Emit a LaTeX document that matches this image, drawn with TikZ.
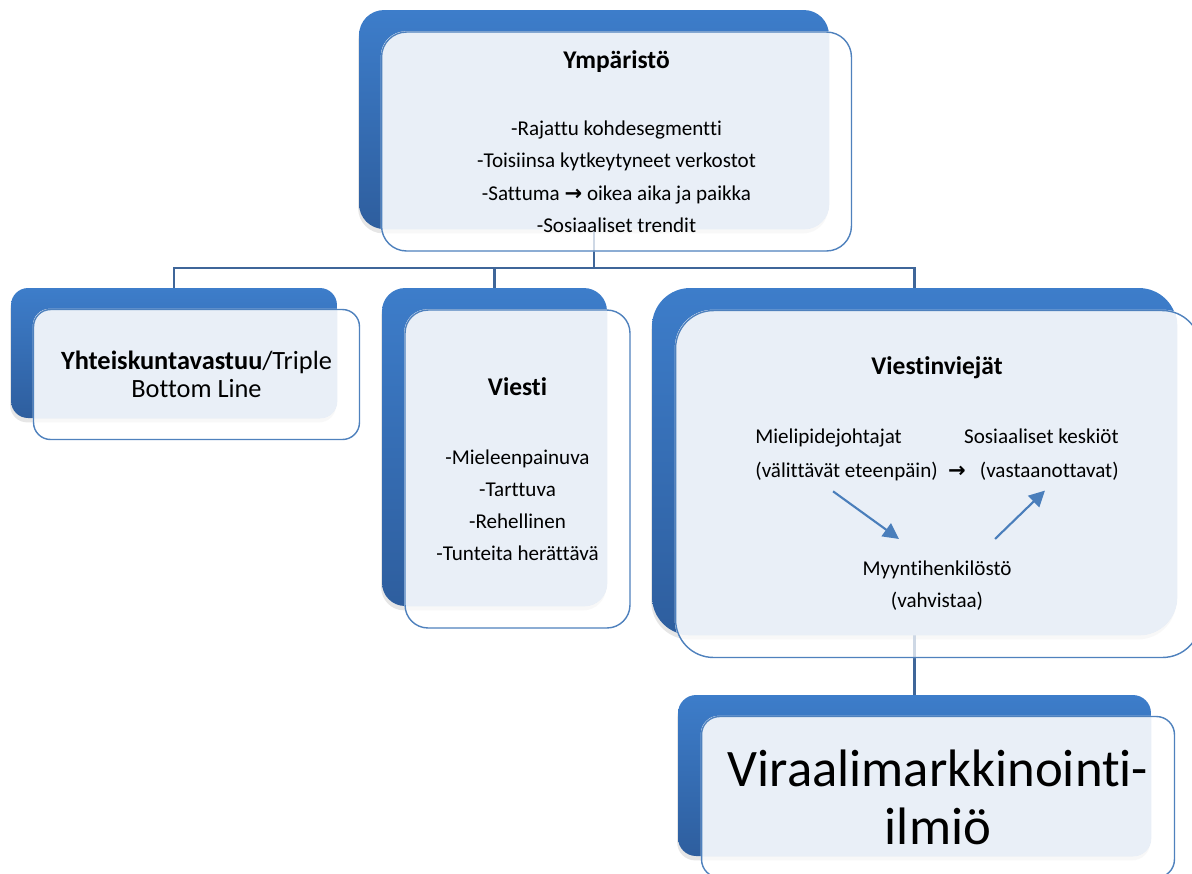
\documentclass[tikz,border=0pt]{standalone}
\usepackage{fontspec}
\setmainfont{Carlito}[Ligatures=CommonOff]
\newfontfamily\nuolifont{DejaVu Sans}
\usetikzlibrary{arrows.meta,shadows,backgrounds}

\definecolor{ylasini}{HTML}{3D7DCA}
\definecolor{alasini}{HTML}{2E5E9E}
\definecolor{reuna}{HTML}{4F81BD}
\definecolor{pohja}{HTML}{E9EFF7}
\definecolor{haaraviiva}{HTML}{3F6699}
\definecolor{nuolisini}{HTML}{4A7EBB}

\newcommand{\oikealle}{{\nuolifont\bfseries →}}

\tikzset{
  takana/.style={rectangle, top color=ylasini, bottom color=alasini, draw=none,
    drop shadow={shadow xshift=-.5pt, shadow yshift=-2.5pt, opacity=.2}},
  edessa/.style={rectangle, draw=reuna, line width=.8pt, align=center,
    font=\fontsize{12}{18.3}\selectfont},
  otsikko/.style={font=\fontsize{14.5}{18.3}\selectfont\bfseries},
  teksti/.style={inner sep=0pt, font=\fontsize{12}{19.3}\selectfont},
  haara/.style={draw=haaraviiva, line width=1.2pt},
  sininuoli/.style={draw=nuolisini, line width=1.2pt, -{Triangle[length=9pt,width=9pt]}}
}

\begin{document}
\begin{tikzpicture}[x=0.02cm, y=-0.02cm]
\useasboundingbox (0,0) rectangle (1192,873);

% taustalaatikot ja haarat
\begin{scope}[on background layer]
\node[takana, rounded corners=.5cm, minimum width=9.4cm, minimum height=4.38cm] (taka-ymp) at (594,119.5) {};
\node[takana, rounded corners=.34cm, minimum width=6.52cm, minimum height=2.6cm] (taka-vast) at (174,353) {};
\node[takana, rounded corners=.46cm, minimum width=4.5cm, minimum height=6.36cm] (taka-viesti) at (494.5,447) {};
\node[takana, rounded corners=.76cm, minimum width=10.5cm, minimum height=6.94cm] (taka-viejat) at (914.5,461.5) {};
\node[takana, rounded corners=.36cm, minimum width=9.46cm, minimum height=3.22cm] (taka-ilmio) at (914.5,775.5) {};

\draw[haara] (taka-ymp.south) -- ++(0,39) -| (taka-vast.north);
\draw[haara] (taka-ymp.south) -- ++(0,39) -| (taka-viesti.north);
\draw[haara] (taka-ymp.south) -- ++(0,39) -| (taka-viejat.north);
\draw[haara] (taka-viejat.south) -- (taka-ilmio.north);
\end{scope}

% etulaatikot
\node[edessa, rounded corners=.5cm, minimum width=9.4cm, minimum height=4.38cm] (ymp)
  at ([shift={(22.5,22)}]taka-ymp.center)
  {{\fontsize{14.5}{18.3}\selectfont\bfseries Ympäristö}\\[20pt]
   -Rajattu kohdesegmentti\\
   -Toisiinsa kytkeytyneet verkostot\\
   -Sattuma \oikealle{} oikea aika ja paikka\\
   -Sosiaaliset trendit};
\node[edessa, rounded corners=.34cm, minimum width=6.52cm, minimum height=2.6cm,
  font=\fontsize{15}{15.9}\selectfont] (vast)
  at ([shift={(22.5,21.5)}]taka-vast.center)
  {\textbf{Yhteiskuntavastuu}/Triple\\Bottom Line};
\node[edessa, rounded corners=.46cm, minimum width=4.5cm, minimum height=6.36cm] (viesti)
  at ([shift={(23,22)}]taka-viesti.center)
  {{\fontsize{14.5}{18.3}\selectfont\bfseries Viesti}\\[21pt]
   -Mieleenpainuva\\
   -Tarttuva\\
   -Rehellinen\\
   -Tunteita herättävä};
\node[edessa, rounded corners=.76cm, minimum width=10.5cm, minimum height=6.94cm] (viejat)
  at ([shift={(23.5,22.5)}]taka-viejat.center) {};
\node[edessa, rounded corners=.36cm, minimum width=9.46cm, minimum height=3.22cm,
  font=\fontsize{30}{32.9}\selectfont] (ilmio)
  at ([shift={(23.5,21.5)}]taka-ilmio.center)
  {Viraalimarkkinointi-\\ilmiö};

% vaalea pohja etulaatikon ja taustan paallekkaiselle osalle
\begin{scope}[on background layer]
\foreach \nimi/\sade in {ymp/.5cm, vast/.34cm, viesti/.46cm, viejat/.76cm, ilmio/.36cm} {
  \fill[white, opacity=.75, rounded corners=\sade] (\nimi.north west) rectangle (\nimi.south east);
  \begin{scope}
    \clip[rounded corners=\sade] (taka-\nimi.north west) rectangle (taka-\nimi.south east);
    \fill[pohja, rounded corners=\sade] (\nimi.north west) rectangle (\nimi.south east);
  \end{scope}
}
\end{scope}

% viestinviejat
\node[otsikko] (viejatots) at (937,368) {Viestinviejät};
\node[teksti, anchor=west, align=left] (mielip) at (755,455) {Mielipidejohtajat\\(välittävät eteenpäin)};
\node[teksti, anchor=east, align=right] (keskiot) at (1119,455) {Sosiaaliset keskiöt\\(vastaanottavat)};
\node[teksti] (valinuoli) at (957,472) {\oikealle};
\node[teksti, align=center, font=\fontsize{12}{18.1}\selectfont] (myynti) at (937,586) {Myyntihenkilöstö\\(vahvistaa)};

\draw[sininuoli] ([shift={(-13.5,10)}]mielip.south) -- ([shift={(-38,-22)}]myynti.north);
\draw[sininuoli] ([shift={(58,-22)}]myynti.north) -- ([shift={(3.5,9.5)}]keskiot.south);
\end{tikzpicture}
\end{document}
